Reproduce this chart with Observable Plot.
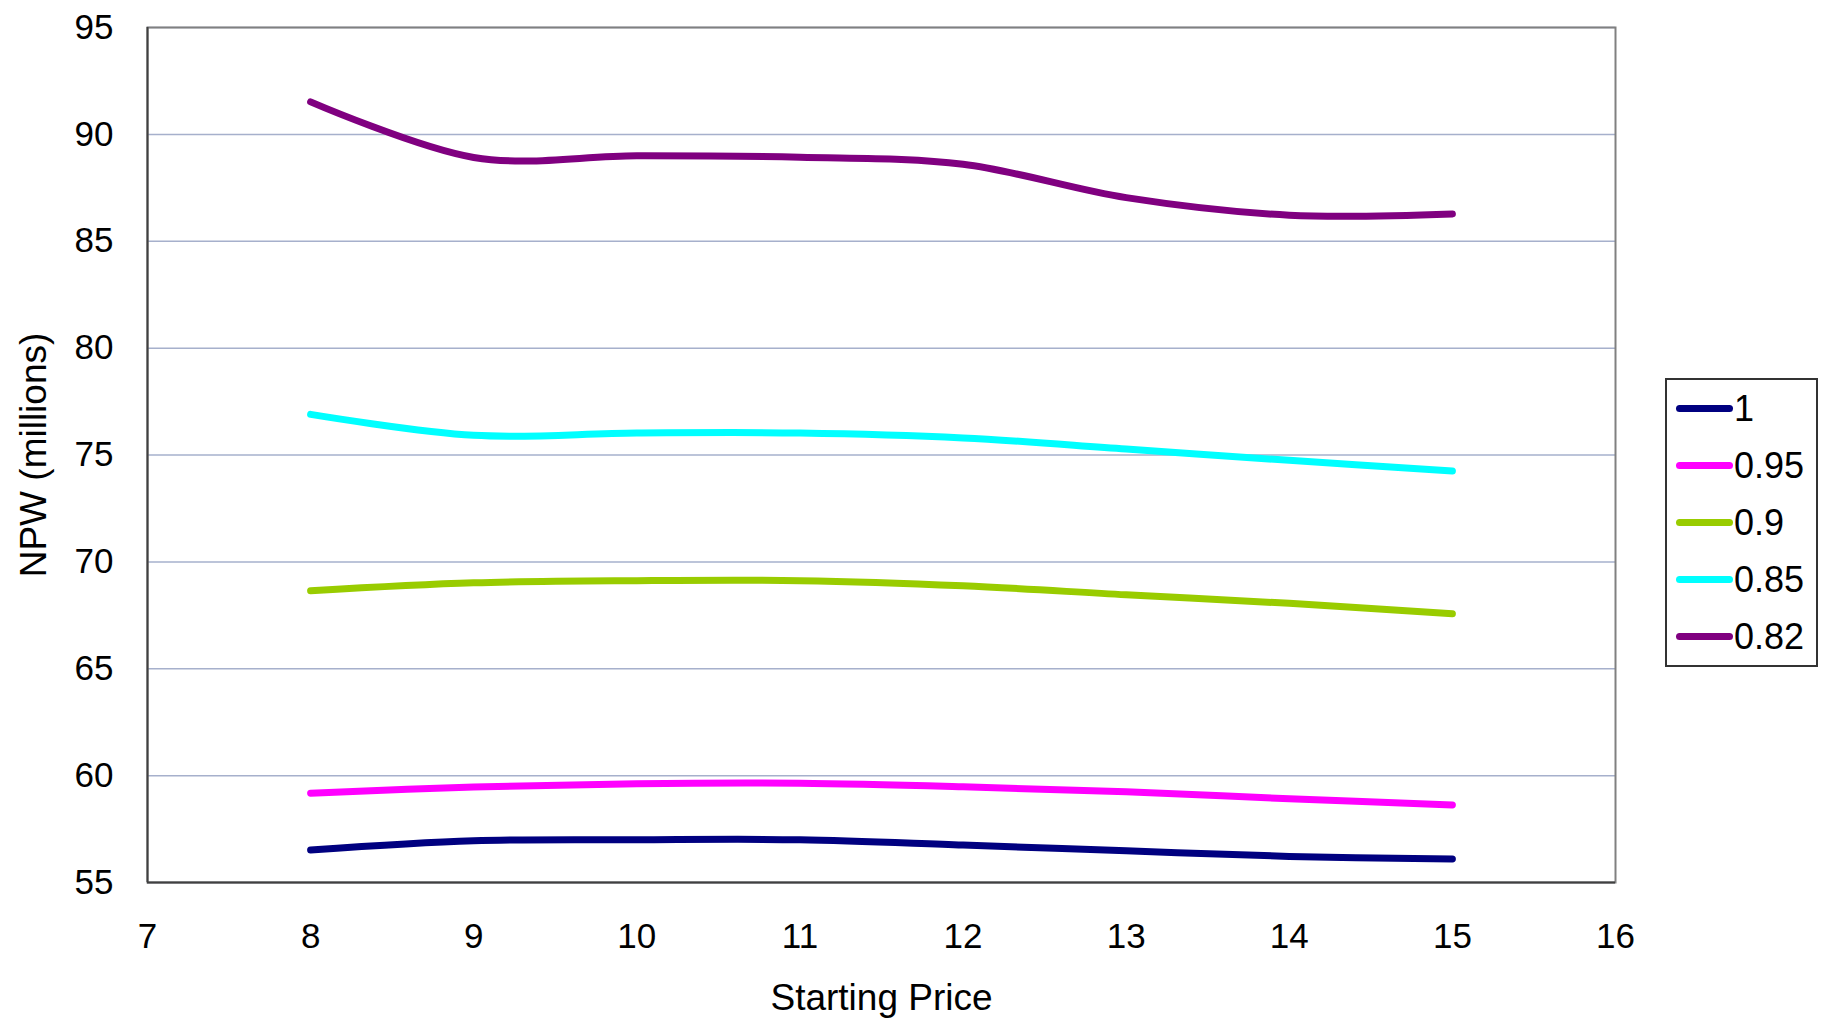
<!DOCTYPE html>
<html>
<head>
<meta charset="utf-8">
<script src="https://cdn.jsdelivr.net/npm/d3@7"></script>
<script src="https://cdn.jsdelivr.net/npm/@observablehq/plot@0.6"></script>
<style>
  html, body { margin: 0; padding: 0; background: #fff; }
  #wrap { position: relative; width: 1828px; height: 1018px; font-family: "Liberation Sans", Arial, sans-serif; }
  #wrap svg g[aria-label="x-axis label"], #wrap svg g[aria-label="y-axis label"] { font-size: 37px; }
  #legend { position: absolute; left: 1665px; top: 378px; width: 149px; height: 285px; border: 2px solid #333; background: #fff; }
  .row { height: 57px; display: flex; align-items: center; }
  .sw { width: 57px; height: 7px; border-radius: 4px; margin-left: 9px; }
  .lab { font-size: 36px; color: #000; margin-left: 1px; line-height: 1; }
</style>
</head>
<body>
<div id="wrap"><div id="legend"></div></div>
<script>
const prices = [8, 9, 10, 11, 12, 13, 14, 15];
const xTicks = [7, 8, 9, 10, 11, 12, 13, 14, 15, 16];
const yTicks = [55, 60, 65, 70, 75, 80, 85, 90, 95];
const seriesNames = ["1", "0.95", "0.9", "0.85", "0.82"];
const seriesColors = ["#000080", "#FF00FF", "#99CC00", "#00FFFF", "#800080"];
const npw_1    = [56.52, 56.95, 57.0, 57.0, 56.75, 56.48, 56.22, 56.1];
const npw_095  = [59.18, 59.47, 59.62, 59.64, 59.48, 59.24, 58.92, 58.63];
const npw_090  = [68.65, 69.02, 69.12, 69.12, 68.88, 68.46, 68.06, 67.57];
const npw_085  = [76.9, 75.92, 76.03, 76.03, 75.8, 75.28, 74.75, 74.25];
const npw_082  = [91.52, 88.92, 89.0, 88.93, 88.6, 87.04, 86.22, 86.28];

const seriesValues = [npw_1, npw_095, npw_090, npw_085, npw_082];
const rows = [];
seriesNames.forEach((s, i) => prices.forEach((p, j) => rows.push({series: s, price: p, npw: seriesValues[i][j]})));

const chart = Plot.plot({
  width: 1828,
  height: 1018,
  marginLeft: 147,
  marginRight: 213,
  marginTop: 27,
  marginBottom: 136,
  style: {fontFamily: "'Liberation Sans', Arial, sans-serif", fontSize: "35px", color: "#000", background: "#fff"},
  x: {domain: [7, 16], ticks: xTicks},
  y: {domain: [55, 95], ticks: yTicks},
  color: {domain: seriesNames, range: seriesColors},
  marks: [
    Plot.gridY(yTicks, {stroke: "#A6B0CC", strokeOpacity: 1, strokeWidth: 1.5}),
    Plot.frame({stroke: "#808080", strokeWidth: 2}),
    Plot.ruleX([7], {stroke: "#404040", strokeWidth: 2}),
    Plot.ruleY([55], {stroke: "#404040", strokeWidth: 2}),
    Plot.line(rows, {x: "price", y: "npw", z: "series", stroke: "series", strokeWidth: 7, curve: "cardinal", strokeLinecap: "round", strokeLinejoin: "round"}),
    Plot.axisY({ticks: yTicks, tickSize: 0, tickPadding: 34, label: "NPW (millions)", labelAnchor: "center", labelArrow: "none", labelOffset: 128}),
    Plot.axisX({ticks: xTicks, tickSize: 0, tickPadding: 41, label: "Starting Price", labelAnchor: "center", labelArrow: "none", labelOffset: 127})
  ]
});
document.getElementById("wrap").prepend(chart);

const legend = document.getElementById("legend");
seriesNames.forEach((s, i) => {
  const row = document.createElement("div");
  row.className = "row";
  const sw = document.createElement("div");
  sw.className = "sw";
  sw.style.background = seriesColors[i];
  const lab = document.createElement("span");
  lab.className = "lab";
  lab.textContent = s;
  row.append(sw, lab);
  legend.append(row);
});
</script>
</body>
</html>
